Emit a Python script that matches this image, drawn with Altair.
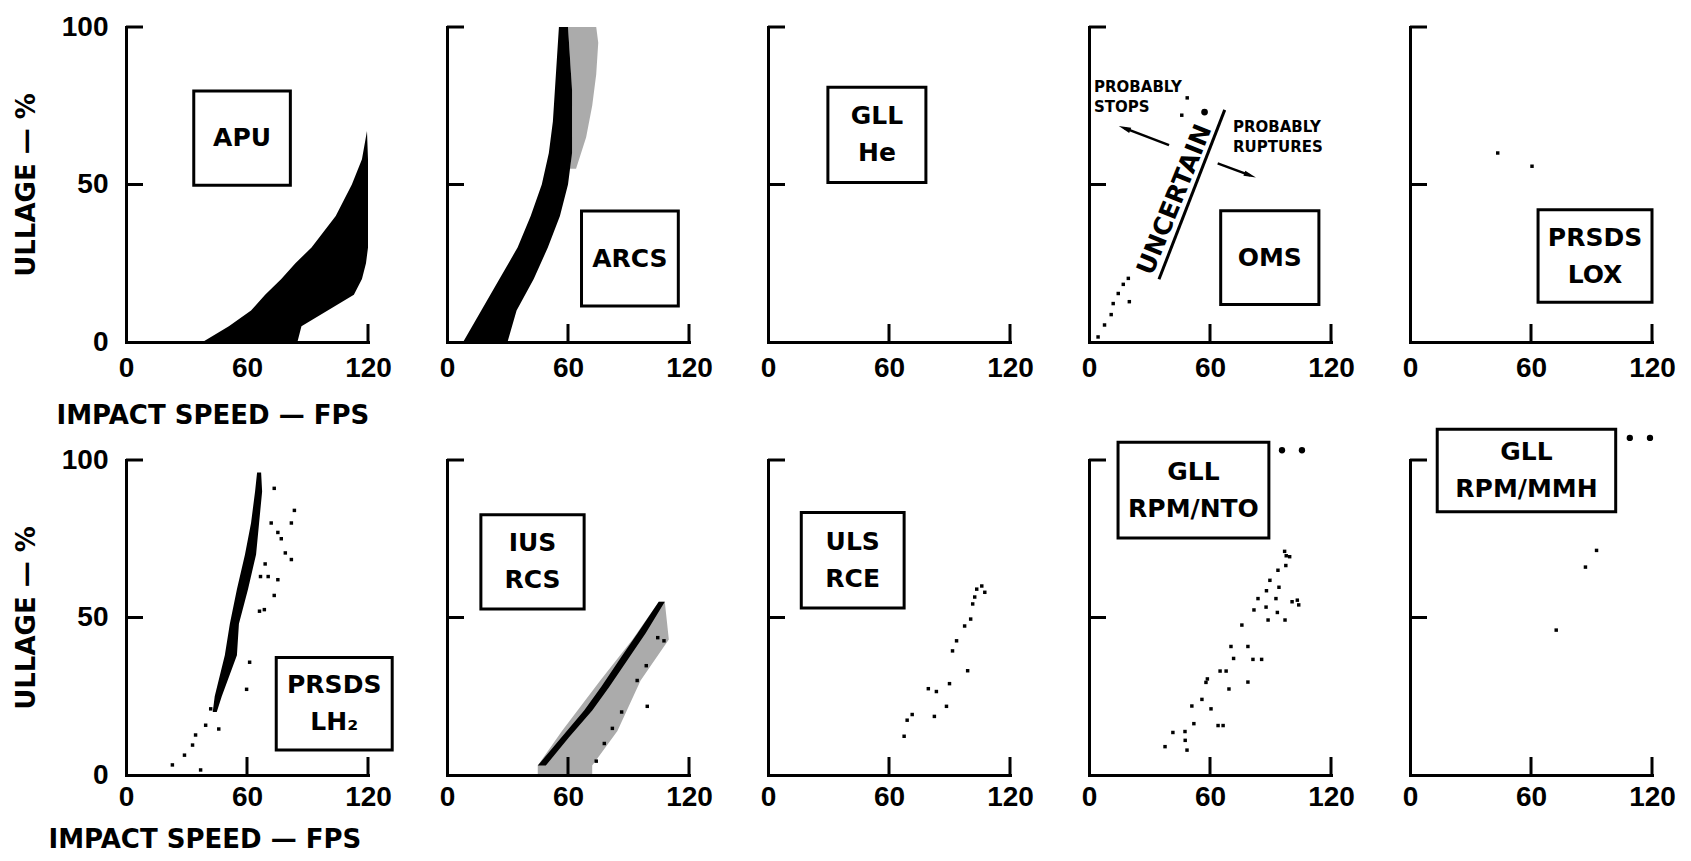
import altair as alt
import pandas as pd

W, H = 242, 315

X_TICKS = [0, 60, 120]
Y_TICKS = [0, 50, 100]
X_INNER = [60, 120]
Y_INNER = [50, 100]

PANELS = ["APU", "ARCS", "GLL He", "OMS", "PRSDS LOX",
          "PRSDS LH2", "IUS RCS", "ULS RCE", "GLL RPM/NTO", "GLL RPM/MMH"]

# ---- shaded bands (ullage %, left / right impact speed fps) ----
APU_U = [0, 5, 10, 15, 20, 25, 30, 40, 50, 58, 67]
APU_L = [38, 51, 62, 69, 77, 84, 92, 104, 112, 117, 119.5]
APU_R = [85, 87, 100, 113, 117, 119, 120, 120, 120, 120, 119.5]

ARCS_U = [0, 10, 20, 30, 40, 50, 60, 70, 80, 90, 100]
ARCS_L = [8, 17, 26, 35, 41.5, 47, 50.5, 52.5, 53.5, 54.5, 55.5]
ARCS_R = [30, 34.5, 43, 50, 56, 60, 62, 62, 62, 61, 60]
ARCS_SP_U = [55, 65, 75, 85, 95, 100]
ARCS_SP_L = [61, 62, 62, 61.5, 60.5, 60]
ARCS_SP_R = [64, 69, 72, 74, 75, 74]

LH2_U = [20, 25, 38, 48, 59, 70, 80, 90, 96]
LH2_L = [43, 44, 49, 51.5, 55, 59, 62, 64, 65]
LH2_R = [45, 47.5, 55, 56, 60.5, 64.5, 66, 67.5, 67]

IUS_U = [3, 12, 20.5, 28, 37.5, 45, 55]
IUS_L = [45, 56.8, 68, 76.5, 86.4, 94.5, 105]
IUS_R = [49, 60.5, 72, 80.5, 90.5, 98.5, 108]
IUS_SP_U = [0, 3, 14, 30, 43, 55]
IUS_SP_L = [45, 45, 57, 76, 92, 105]
IUS_SP_R = [72, 72, 84.5, 96, 110, 108]

BANDS = [
    ("APU", "dense", APU_U, APU_L, APU_R),
    ("ARCS", "dense", ARCS_U, ARCS_L, ARCS_R),
    ("ARCS", "sparse", ARCS_SP_U, ARCS_SP_L, ARCS_SP_R),
    ("PRSDS LH2", "dense", LH2_U, LH2_L, LH2_R),
    ("IUS RCS", "dense", IUS_U, IUS_L, IUS_R),
    ("IUS RCS", "sparse", IUS_SP_U, IUS_SP_L, IUS_SP_R),
]

# ---- isolated specks (impact speed, ullage) ----
OMS_SX = [4.5, 7.7, 11, 12, 14.5, 17, 19.5, 20, 48.7, 46]
OMS_SY = [1.6, 5.4, 8.7, 12.2, 15.4, 18.3, 20.2, 12.8, 77.5, 72]
LOX_SX = [43.5, 60.5]
LOX_SY = [60, 55.8]
LH2_SX = [23, 29, 33, 34.5, 39.5, 42, 46, 37, 73.5, 83.5, 82, 75.3, 72, 77, 82, 79,
          75.3, 70.5, 73.5, 68.6, 66.2, 61.3, 59.8, 69, 66.7]
LH2_SY = [3.2, 6.3, 9.5, 12.7, 15.8, 21, 14.6, 1.6, 91, 84, 80, 77, 80, 75, 68.4, 70.5,
          62, 63, 57, 52.5, 52, 35.8, 27.2, 67, 63]
IUS_SX = [107.6, 104.5, 98.8, 94.3, 82, 78, 74, 86.6, 99.3]
IUS_SY = [42.6, 43.6, 34.7, 30, 14.8, 10, 4.4, 20, 21.8]
ULS_SX = [67.5, 69, 71.5, 79.5, 83.5, 82.5, 88.5, 90, 91.5, 93.5, 99, 97.5, 100.5,
          101.5, 102.5, 103.5, 106, 107.5]
ULS_SY = [12.3, 17.4, 19.2, 27.4, 26.5, 18.6, 21.8, 29, 39.4, 42.6, 33.1, 47.3, 49.5,
          54.3, 56.5, 59, 60, 58]
NTO_SX = [37.7, 41.6, 47.6, 47.7, 48.6, 51, 52, 56, 58, 58.7, 60.5, 64, 66.5, 65, 69.4,
          68, 70.4, 71.7, 75.8, 78.8, 78.8, 81.3, 85.6, 81.8, 83.8, 87.8, 88.8, 89.7,
          88, 92.7, 94.2, 93.4, 97.2, 93.7, 97.6, 97.8, 99.5, 97, 100.7, 104, 103.3]
NTO_SY = [9, 13.5, 13.8, 11, 7.9, 21.9, 16.3, 24, 29.4, 30.5, 21, 15.7, 15.7, 33, 27.3,
          33, 40.8, 37, 47.6, 40.8, 29.5, 36.7, 36.7, 52.4, 56, 53.3, 49.2, 61.8,
          58.5, 56, 59.6, 51.6, 49.2, 65, 66.5, 69.6, 69.3, 71, 55, 54, 55.5]
MMH_SX = [92.5, 87, 72.5]
MMH_SY = [71.3, 66, 46]

SPECKS = [("OMS", OMS_SX, OMS_SY), ("PRSDS LOX", LOX_SX, LOX_SY),
          ("PRSDS LH2", LH2_SX, LH2_SY), ("IUS RCS", IUS_SX, IUS_SY),
          ("ULS RCE", ULS_SX, ULS_SY), ("GLL RPM/NTO", NTO_SX, NTO_SY),
          ("GLL RPM/MMH", MMH_SX, MMH_SY)]

# ---- label boxes: panel, text, x1, x2, y1, y2 ----
BOXES = [
    ("APU", "APU", 33.6, 81.5, 49.8, 79.7),
    ("ARCS", "ARCS", 66.7, 114.7, 11.4, 41.6),
    ("GLL He", "GLL\nHe", 29.7, 78.3, 50.6, 80.9),
    ("OMS", "OMS", 65.3, 114, 11.9, 41.7),
    ("PRSDS LOX", "PRSDS\nLOX", 63.5, 120, 12.6, 42),
    ("PRSDS LH2", "PRSDS\nLH\u2082", 74.5, 132, 7.9, 37.3),
    ("IUS RCS", "IUS\nRCS", 16.8, 68, 52.7, 82.6),
    ("ULS RCE", "ULS\nRCE", 16.5, 67.5, 53, 83.3),
    ("GLL RPM/NTO", "GLL\nRPM/NTO", 14.4, 89.2, 75.2, 105.6),
    ("GLL RPM/MMH", "GLL\nRPM/MMH", 13.5, 102, 83.6, 109.8),
]

# footnote dots
NOTE_DOTS = [("GLL RPM/NTO", [95.7, 105.6], [103.1, 103.1]),
             ("GLL RPM/MMH", [109, 119], [107, 107])]

# OMS annotations
OMS_LINE_X = [34.7, 67.3]
OMS_LINE_Y = [19.9, 73.7]
OMS_BIGDOT = (57.3, 73)
OMS_TEXTS = [("UNCERTAIN", 42.4, 45.2, 292, "center"),
             ("PROBABLY\nSTOPS", 2.5, 77.9, 0, "left"),
             ("PROBABLY\nRUPTURES", 71.4, 65.1, 0, "left")]
ARROWS = [(39.7, 62.5, 17.6, 67.9, 291), (63.8, 56.7, 79.9, 52.9, 110)]

TICK_FONT = "Liberation Sans"
LABEL_FONT = "DejaVu Sans"
BOX_LH = 37
SMALL_LH = 20

XS = alt.Scale(domain=[0, 120], nice=False, zero=False)
YS = alt.Scale(domain=[0, 100], nice=False, zero=False)

# ---- tables ----
band_rows = []
for bi, (p, kind, us, ls, rs) in enumerate(BANDS):
    for u, l, r in zip(us, ls, rs):
        band_rows.append(dict(panel=p, kind=kind, band=bi, ullage=u, left=l, right=r))
bands_df = pd.DataFrame(band_rows)

speck_rows = []
for p, xs, ys in SPECKS:
    for x, y in zip(xs, ys):
        speck_rows.append(dict(panel=p, speed=x, ullage=y))
specks_df = pd.DataFrame(speck_rows)

boxes_df = pd.DataFrame([dict(panel=p, text=t, x1=a, x2=b, y1=c, y2=d,
                              cx=(a + b) / 2, cy=(c + d) / 2, n=t.count("\n") + 1)
                         for p, t, a, b, c, d in BOXES])


def xax(row, col):
    kw = dict(values=X_TICKS, labelFlush=False, labelOverlap=False, ticks=False, tickSize=0,
              labelPadding=12 if row == 0 else 8, domainWidth=3, domainColor="black",
              domainCap="square", labelFont=TICK_FONT, labelFontSize=28, labelFontWeight="bold",
              labelColor="black", grid=False, format="d")
    if col == 0:
        kw.update(title="IMPACT SPEED \u2014 FPS", titleX=-70 if row == 0 else -78,
                  titleY=60 if row == 0 else 51, titleAlign="left", titleBaseline="top",
                  titleFont=LABEL_FONT, titleFontSize=26, titleFontWeight="bold",
                  titleColor="black", titleAnchor="start")
    else:
        kw.update(title=None)
    return alt.Axis(**kw)


def yax(col):
    kw = dict(values=Y_TICKS, ticks=False, tickSize=0, domainWidth=3, domainColor="black",
              domainCap="square", grid=False, labelFlush=False, labelOverlap=False)
    if col == 0:
        kw.update(labelFont=TICK_FONT, labelFontSize=28, labelFontWeight="bold",
                  labelColor="black", labelPadding=18, format="d",
                  title="ULLAGE \u2014 %", titleFont=LABEL_FONT, titleFontSize=26,
                  titleFontWeight="bold", titleColor="black", titlePadding=22)
    else:
        kw.update(labels=False, title=None)
    return alt.Axis(**kw)


def panel(i):
    name = PANELS[i]
    row, col = divmod(i, 5)
    XA, YA = xax(row, col), yax(col)

    def X(f):
        return alt.X(f, scale=XS, axis=XA)

    def Y(f):
        return alt.Y(f, scale=YS, axis=YA)

    layers = []

    b = bands_df[bands_df.panel == name]
    for kind, op in (("sparse", 0.33), ("dense", 1.0)):
        d = b[b.kind == kind]
        if len(d):
            layers.append(alt.Chart(d).mark_area(orient="horizontal", color="black", opacity=op).encode(
                y=Y("ullage:Q"), x=X("left:Q"), x2="right:Q", detail="band:N"))

    s = specks_df[specks_df.panel == name]
    if len(s):
        layers.append(alt.Chart(s).mark_square(size=12, color="black", opacity=1).encode(
            x=X("speed:Q"), y=Y("ullage:Q")))

    if name == "OMS":
        line_df = pd.DataFrame(dict(speed=OMS_LINE_X, ullage=OMS_LINE_Y))
        layers.append(alt.Chart(line_df).mark_line(color="black", strokeWidth=3).encode(
            x=X("speed:Q"), y=Y("ullage:Q")))
        dot_df = pd.DataFrame(dict(speed=[OMS_BIGDOT[0]], ullage=[OMS_BIGDOT[1]]))
        layers.append(alt.Chart(dot_df).mark_circle(size=45, color="black", opacity=1).encode(
            x=X("speed:Q"), y=Y("ullage:Q")))
        for t, tx, ty, ang, al in OMS_TEXTS:
            tdf = pd.DataFrame(dict(speed=[tx], ullage=[ty], t=[t]))
            big = t == "UNCERTAIN"
            nl = t.count("\n")
            layers.append(alt.Chart(tdf).mark_text(
                font=LABEL_FONT, fontWeight="bold", fontSize=25 if big else 15,
                angle=ang, align=al, baseline="middle", lineBreak="\n",
                lineHeight=SMALL_LH, dy=-nl * SMALL_LH / 2, color="black").encode(
                x=X("speed:Q"), y=Y("ullage:Q"), text="t:N"))
        for k, (x0, y0, x1, y1, ang) in enumerate(ARROWS):
            adf = pd.DataFrame(dict(speed=[x0, x1], ullage=[y0, y1]))
            layers.append(alt.Chart(adf).mark_line(color="black", strokeWidth=2.5).encode(
                x=X("speed:Q"), y=Y("ullage:Q")))
            hdf = pd.DataFrame(dict(speed=[x1], ullage=[y1]))
            layers.append(alt.Chart(hdf).mark_point(
                shape="M0,-1L0.45,1L-0.45,1Z", filled=True, size=150, angle=ang,
                color="black", opacity=1).encode(x=X("speed:Q"), y=Y("ullage:Q")))

    for p, xs, ys in NOTE_DOTS:
        if p == name:
            ndf = pd.DataFrame(dict(speed=xs, ullage=ys))
            layers.append(alt.Chart(ndf).mark_circle(size=40, color="black", opacity=1).encode(
                x=X("speed:Q"), y=Y("ullage:Q")))

    bx = boxes_df[boxes_df.panel == name]
    layers.append(alt.Chart(bx).mark_rect(fill="white", stroke="black", strokeWidth=3).encode(
        x=X("x1:Q"), x2="x2:Q", y=Y("y1:Q"), y2="y2:Q"))
    n = int(bx.n.iloc[0])
    layers.append(alt.Chart(bx).mark_text(
        font=LABEL_FONT, fontWeight="bold", fontSize=25, lineBreak="\n", lineHeight=BOX_LH,
        align="center", baseline="middle", dy=-(n - 1) * BOX_LH / 2, color="black").encode(
        x=X("cx:Q"), y=Y("cy:Q"), text="text:N"))

    # inward ticks
    ytk = pd.DataFrame(dict(v=Y_INNER))
    layers.append(alt.Chart(ytk).mark_rule(color="black", strokeWidth=3).encode(
        y=Y("v:Q"), x=alt.value(0), x2=alt.value(17)))
    xtk = pd.DataFrame(dict(v=X_INNER))
    layers.append(alt.Chart(xtk).mark_rule(color="black", strokeWidth=3).encode(
        x=X("v:Q"), y=alt.value(H), y2=alt.value(H - 18)))

    return alt.layer(*layers).properties(width=W, height=H)


chart = alt.concat(*[panel(i) for i in range(10)], columns=5,
                   spacing={"row": 118, "column": 79}, bounds="flush").properties(
    padding={"left": 5, "top": 5, "right": 0, "bottom": 0}, background="white"
).configure_view(strokeWidth=0)

chart.save("out.html", embed_options={"renderer": "svg", "actions": False})
